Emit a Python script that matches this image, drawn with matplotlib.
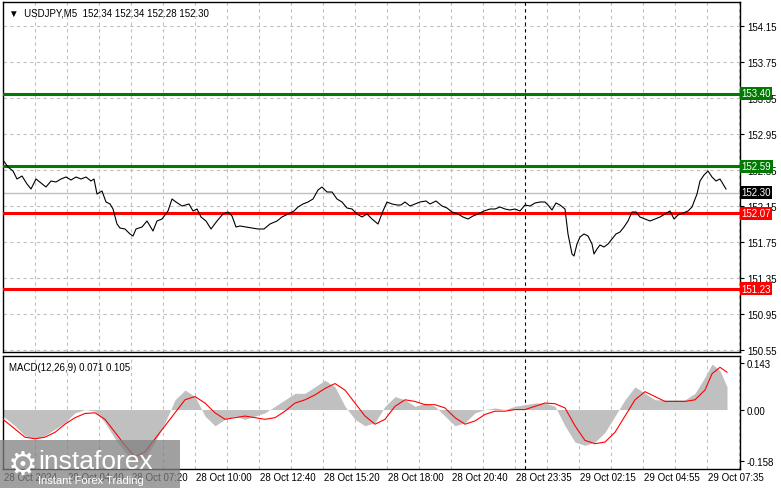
import matplotlib
matplotlib.use("Agg")
import matplotlib.pyplot as plt
from matplotlib.patches import Rectangle
import numpy as np

plt.rcParams['font.family'] = ['Liberation Sans', 'DejaVu Sans']

# price samples: pixel-x positions (bar = (x-3)/2) and close price
px = [3,8,13,17,22,27,31,36,41,46,51,56,61,66,71,76,81,86,91,94,97,102,106,110,113,117,120,125,130,133,136,142,147,153,157,162,168,172,176,182,189,193,197,201,206,211,217,223,228,232,236,240,246,252,258,264,270,277,282,288,294,298,303,308,313,318,322,327,332,337,342,347,352,357,362,367,372,378,383,387,392,397,401,405,410,415,420,426,430,436,442,447,452,458,463,468,473,478,484,490,495,500,505,510,515,520,525,530,535,540,545,548,552,556,560,565,568,572,574,577,580,584,588,592,594,597,600,604,608,612,616,620,624,628,632,636,640,645,650,655,660,665,670,674,678,683,688,692,697,700,704,708,712,716,720,723,726]
py = [161,168,172,180,177,185,190,180,184,188,182,183,180,178,181,178,180,178,182,180,195,192,203,205,210,225,229,230,235,237,230,228,222,232,222,220,212,200,203,207,205,212,210,218,222,230,222,215,213,217,228,227,228,229,230,230,225,222,218,215,212,208,205,203,200,191,188,193,193,200,203,209,210,215,218,215,220,225,212,203,205,206,206,203,207,205,203,202,205,202,207,209,213,215,218,220,217,215,212,210,210,208,210,211,210,212,206,207,204,203,203,206,211,204,206,210,235,255,257,245,238,235,237,245,255,250,246,248,245,240,235,233,228,222,213,213,218,220,222,220,218,215,212,220,216,214,212,208,195,182,176,172,178,182,180,185,190]
bars = [(x - 3) / 2 for x in px]
price = [154.15 - (y - 27) / 90 for y in py]

mx = [3,15,25,35,45,55,65,75,85,95,105,115,125,135,145,155,165,175,185,195,205,215,225,235,245,255,265,275,285,295,305,315,325,335,345,355,365,375,385,395,405,415,425,435,445,455,465,475,485,495,505,515,525,535,545,555,565,575,585,595,605,615,625,635,645,655,665,675,685,695,705,712,720,727]
hist = [-0.02,-0.05,-0.08,-0.09,-0.08,-0.06,-0.04,-0.01,0,-0.005,-0.04,-0.09,-0.13,-0.16,-0.15,-0.10,-0.04,0.03,0.06,0.04,-0.02,-0.05,-0.03,-0.02,-0.03,-0.02,-0.01,0.01,0.03,0.05,0.05,0.07,0.09,0.07,0.01,-0.03,-0.05,-0.04,0.01,0.04,0.03,0.01,0.02,0.01,-0.02,-0.05,-0.04,-0.01,0.0,0.005,0.0,0.01,0.015,0.02,0.02,0.01,-0.05,-0.10,-0.11,-0.10,-0.07,-0.02,0.03,0.07,0.05,0.03,0.03,0.03,0.03,0.05,0.10,0.14,0.12,0.07]
signal = [-0.03,-0.06,-0.085,-0.09,-0.085,-0.07,-0.045,-0.025,-0.012,-0.01,-0.03,-0.07,-0.11,-0.145,-0.13,-0.09,-0.05,-0.01,0.03,0.04,0.02,-0.01,-0.03,-0.025,-0.02,-0.025,-0.03,-0.025,-0.005,0.02,0.03,0.045,0.065,0.08,0.06,0.02,-0.02,-0.045,-0.03,0.01,0.03,0.025,0.015,0.015,0.005,-0.025,-0.045,-0.035,-0.015,-0.005,-0.005,0.0,0.0,0.01,0.02,0.018,0.005,-0.05,-0.095,-0.105,-0.10,-0.07,-0.02,0.03,0.055,0.04,0.025,0.025,0.025,0.03,0.06,0.11,0.13,0.115]
mbars = [(x - 3) / 2 for x in mx]

levels = [153.40, 152.59, 152.07, 151.23]
level_colors = ["#007a00", "#007a00", "#ff0000", "#ff0000"]
price_ticks = [154.15, 153.75, 153.35, 152.95, 152.55, 152.15, 151.75, 151.35, 150.95, 150.55]
time_labels = ["28 Oct 2024", "28 Oct 04:40", "28 Oct 07:20", "28 Oct 10:00", "28 Oct 12:40", "28 Oct 15:20",
               "28 Oct 18:00", "28 Oct 20:40", "28 Oct 23:35", "29 Oct 02:15", "29 Oct 04:55", "29 Oct 07:35"]

W, H = 781, 489
fig = plt.figure(figsize=(W/100, H/100), dpi=100)
L, R = 3/W, 740/W
ax = fig.add_axes([L, 1-353/H, R-L, 350/H])
ax2 = fig.add_axes([L, 1-470/H, R-L, 113/H])
xmax = (740-3)/2
fs = 7

ax.set_xlim(0, xmax)
ax.set_ylim(151.75-110/90, 154.15+24/90)
ax2.set_xlim(0, xmax)
ax2.set_ylim(-0.158-8/322, 0.143+7/322)

for a in (ax, ax2):
    for s in a.spines.values():
        s.set_linewidth(1); s.set_color("black")
    a.tick_params(axis="x", length=0, labelbottom=False)
    a.yaxis.tick_right()
    a.tick_params(axis="y", length=3, labelsize=fs, pad=2)
    for b in np.arange(16, xmax, 16):
        a.axvline(b, color="#c0c0c0", lw=0.8, ls=(0, (3, 3)), zorder=0)
    a.axvline((525-3)/2, color="black", lw=0.8, ls=(0, (3, 3)), zorder=1)

ax.set_yticks(price_ticks)
ax.set_yticklabels([f"{v:.2f}" for v in price_ticks])
for v in price_ticks:
    ax.axhline(v, color="#c0c0c0", lw=0.8, ls=(0, (3, 3)), zorder=0)
ax.axhline(152.30, color="#c0c0c0", lw=1, zorder=1)
for lv, c in zip(levels, level_colors):
    ax.axhline(lv, color=c, lw=2.2, zorder=3)
    ax.text(1.002, lv, f"{lv:.2f}", transform=ax.get_yaxis_transform(), fontsize=fs, color="white",
            va="center", ha="left", bbox=dict(boxstyle="square,pad=0.15", fc=c, ec="none"), zorder=5, clip_on=False)
ax.text(1.002, 152.30, "152.30", transform=ax.get_yaxis_transform(), fontsize=fs, color="white",
        va="center", ha="left", bbox=dict(boxstyle="square,pad=0.15", fc="black", ec="none"), clip_on=False)
ax.plot(bars, price, color="black", lw=0.8, zorder=4)
ax.text(0.008, 0.985, "\u25BC  USDJPY,M5  152.34 152.34 152.28 152.30", transform=ax.transAxes,
        fontsize=fs, va="top", ha="left")

ax2.set_yticks([0.143, 0.0, -0.158])
ax2.set_yticklabels(["0.143", "0.00", "-0.158"])
ax2.fill_between(mbars, 0, hist, color="#c0c0c0", lw=0, zorder=2)
ax2.plot(mbars, signal, color="#ff0000", lw=0.8, zorder=3)
ax2.text(0.008, 0.95, "MACD(12,26,9) 0.071 0.105", transform=ax2.transAxes, fontsize=fs, va="top")

for i, t in enumerate(time_labels):
    fig.text((4 + 64*i)/W, 1-478/H, t, fontsize=fs, ha="left", va="center")

# watermark
fig.patches.append(Rectangle((0, 0), 180/W, 48/H, transform=fig.transFigure, fc="#808080", alpha=0.75, ec="none", zorder=10))
fig.text(38/W, 1-462/H, "instaforex", fontsize=19, color="white", ha="left", va="center", zorder=11)
fig.text(38/W, 1-481/H, "Instant Forex Trading", fontsize=8, color="white", ha="left", va="center", zorder=11)
fig.text(8/W, 1-465/H, "\u2699", fontsize=24, color="white", ha="left", va="center", zorder=11, family="DejaVu Sans")

fig.savefig("out.png", dpi=100)
